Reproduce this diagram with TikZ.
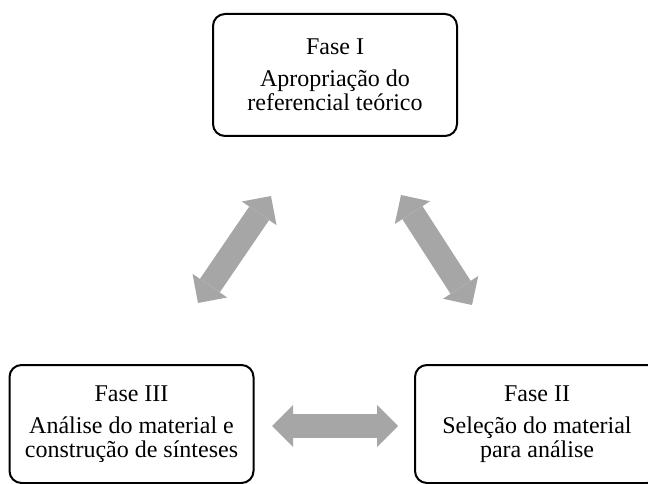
\documentclass[tikz,border=0pt]{standalone}
\usepackage{fontspec}
\setmainfont{Liberation Serif}
\usetikzlibrary{arrows.meta}
\definecolor{arrowgray}{RGB}{166,166,166}
\tikzset{
	fase/.style={draw, line width=1.5pt, rounded corners=9pt, align=center,
		minimum width=183pt, inner sep=0pt, font=\fontsize{18}{18}\selectfont},
	bigarrow/.style={arrowgray, line width=18pt, {Triangle[width=31.5pt,length=15.75pt,line width=0pt]}-{Triangle[width=31.5pt,length=15.75pt,line width=0pt]}}
}
\begin{document}
\begin{tikzpicture}[x=0.75pt,y=-0.75pt]
		\useasboundingbox (0,0) rectangle (648,484);
		\clip (0,0) rectangle (648,484);
		% the three phases
		\node[fase, minimum height=91.5pt] (f1) at (335,75) {Fase I\\[6pt]Apropriação do\\referencial teórico};
		\node[fase, minimum height=88.5pt] (f2) at (537,424) {Fase II\\[6pt]Seleção do material\\para análise};
		\node[fase, minimum height=88.5pt] (f3) at (131.5,424) {Fase III\\[6pt]Análise do material e\\construção de sínteses};
		% arrow ends
		\coordinate (a31) at (198,303);
		\coordinate (a13) at (271,196);
		\coordinate (a12) at (401,195);
		\coordinate (a21) at (472,305);
		\coordinate (a32) at (272,426);
		\coordinate (a23) at (398,426);
		\draw[bigarrow] (a31) -- (a13);
		\draw[bigarrow] (a12) -- (a21);
		\draw[bigarrow] (a32) -- (a23);
	\end{tikzpicture}
\end{document}
